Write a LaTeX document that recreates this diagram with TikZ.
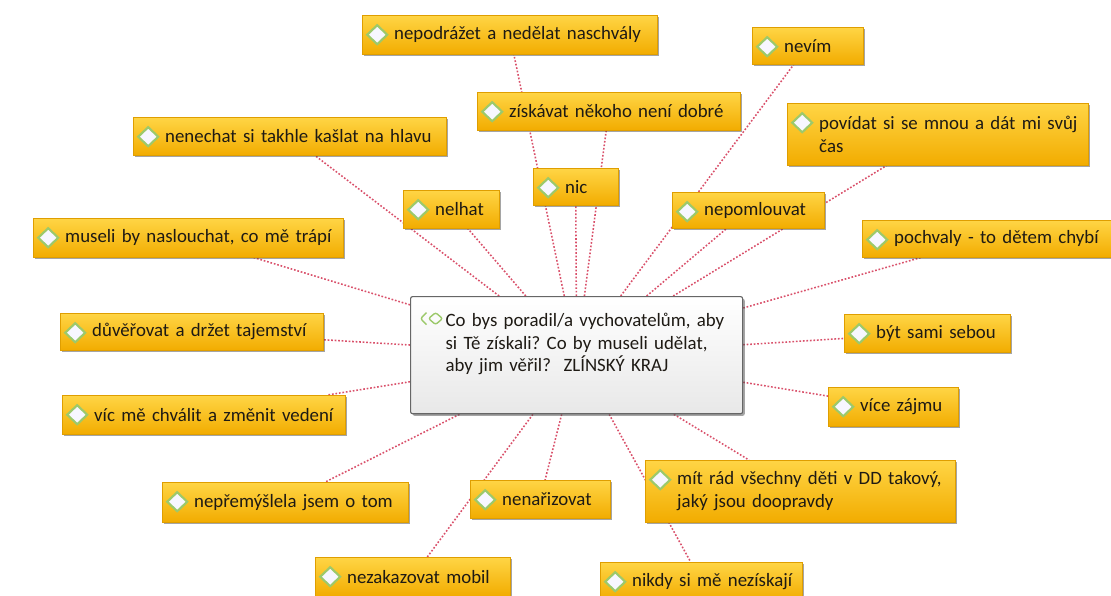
\documentclass[tikz,border=0pt]{standalone}
\usepackage{fontspec}
\setmainfont{Carlito}
\usetikzlibrary{shadows, backgrounds}
\definecolor{leaftop}{HTML}{FFD545}
\definecolor{leafbottom}{HTML}{F2AC00}
\definecolor{linkred}{HTML}{D9506A}
\definecolor{icongreen}{HTML}{9CC96B}
\definecolor{inkdark}{HTML}{1E1A14}

\tikzset{
  leaf/.style={anchor=north west, top color=leaftop, bottom color=leafbottom,
    draw=leafbottom!92!black, line width=0.3pt,
    drop shadow={shadow xshift=1.5pt, shadow yshift=-1.5pt, opacity=0.5, fill=black!70},
    text width=#1, minimum height=0.975cm, inner xsep=0.2cm, inner ysep=0.1cm,
    align=left, font=\fontsize{13.4}{16}\selectfont, text=inkdark,
    execute at begin node={\frenchspacing\hangindent=0.6cm\hangafter=0\relax},
    path picture={\draw[icongreen, fill=blue!3!white, line width=1.5pt]
      (path picture bounding box.north west) ++(5,19.5)
      -- ++(10,-9.5) -- ++(10,9.5) -- ++(-10,9.5) -- cycle;}},
  hub/.style={anchor=north west, top color=white, bottom color=black!9,
    draw=black!60, line width=0.8pt, rounded corners=1.5pt,
    drop shadow={shadow xshift=1.5pt, shadow yshift=-1.5pt, opacity=0.5, fill=black!70},
    text width=7.9cm, inner xsep=0.2cm, inner ysep=0.42cm,
    align=left, font=\fontsize{13.4}{16}\selectfont, text=inkdark,
    execute at begin node={\frenchspacing\hangindent=0.675cm\hangafter=0\relax},
    path picture={\draw[icongreen, line width=1pt]
      (path picture bounding box.north west) ++(18,22)
      -- ++(7,-6) -- ++(7,6) -- ++(-7,6) -- cycle
      (path picture bounding box.north west) ++(16,16)
      -- ++(-6,6) -- ++(6,6);}},
  link/.style={linkred, line width=1.1pt, dash pattern=on 1.2pt off 1.3pt},
}

\begin{document}
\begin{tikzpicture}[x=0.025cm, y=-0.025cm]
  \useasboundingbox (0,0) rectangle (1111,595);

  % central question
  \node[hub] (hub) at (410,296) {Co bys poradil/a vychovatelům, aby\newline
    si Tě získali? Co by museli udělat,\newline
    aby jim věřil?~~ZLÍNSKÝ KRAJ\par\vspace{0.55cm}};

  % answers, top row
  \node[leaf=6.975cm] (naschval) at (362,15) {nepodrážet a nedělat naschvály};
  \node[leaf=2.375cm, minimum height=0.925cm] (nevim) at (752,27) {nevím};
  \node[leaf=6.175cm, minimum height=0.95cm] (ziskavat) at (477,92) {získávat někoho není dobré};
  \node[leaf=7.125cm, minimum height=1.55cm] (povidat) at (787,103) {povídat si se mnou a dát mi svůj\newline čas};
  \node[leaf=7.425cm, minimum height=0.95cm] (kaslat) at (133,117) {nenechat si takhle kašlat na hlavu};
  \node[leaf=1.725cm, minimum height=0.925cm] (nic) at (533,168) {nic};
  \node[leaf=2.0cm, minimum height=0.95cm] (nelhat) at (403,190) {nelhat};
  \node[leaf=3.4cm, minimum height=0.9cm] (pomlouvat) at (672,192) {nepomlouvat};

  % answers, left and right
  \node[leaf=7.35cm] (naslouchat) at (33,218) {museli by naslouchat, co mě trápí};
  \node[leaf=5.85cm, minimum height=0.925cm] (pochvaly) at (862,220) {pochvaly - to dětem chybí};
  \node[leaf=6.175cm, minimum height=0.925cm] (duverovat) at (60,313) {důvěřovat a držet tajemství};
  \node[leaf=3.75cm, minimum height=0.95cm] (sebou) at (844,314) {být sami sebou};
  \node[leaf=6.675cm] (chvalit) at (62,395) {víc mě chválit a změnit vedení};
  \node[leaf=2.85cm] (zajmu) at (828,387) {více zájmu};

  % answers, bottom row
  \node[leaf=5.75cm, minimum height=1.0cm] (premyslela) at (162,482) {nepřemýšlela jsem o tom};
  \node[leaf=3.1cm, minimum height=0.95cm] (narizovat) at (470,480) {nenařizovat};
  \node[leaf=7.35cm, minimum height=1.55cm] (mitrad) at (645,460) {mít rád všechny děti v DD takový,\newline jaký jsou doopravdy};
  \node[leaf=4.475cm] (mobil) at (315,557) {nezakazovat mobil};
  \node[leaf=4.65cm, minimum height=0.95cm] (nikdy) at (600,562) {nikdy si mě nezískají};

  % dotted links behind the boxes
  \begin{scope}[on background layer]
    \foreach \n in {naschval, nevim, ziskavat, povidat, kaslat, nic, nelhat,
        pomlouvat, naslouchat, pochvaly, duverovat, sebou, chvalit, zajmu,
        premyslela, narizovat, mitrad, mobil, nikdy}
      \draw[link] (hub) -- (\n);
  \end{scope}
\end{tikzpicture}
\end{document}
